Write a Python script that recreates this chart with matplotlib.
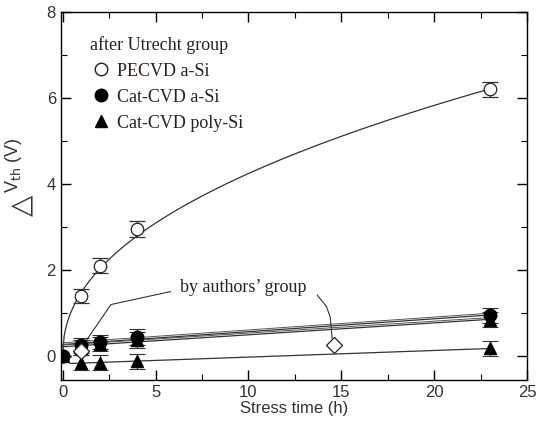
import matplotlib.pyplot as plt
import numpy as np
from matplotlib.lines import Line2D

plt.rcParams['font.family'] = ['Liberation Sans', 'DejaVu Sans']

# after Utrecht group
pecvd_t = [0, 1, 2, 4, 23]
pecvd_v = [0.0, 1.4, 2.1, 2.95, 6.2]
pecvd_err = [0.0, 0.17, 0.17, 0.18, 0.18]

cat_asi_t = [0, 1, 2, 4, 23]
cat_asi_v = [0.0, 0.25, 0.33, 0.45, 0.95]
cat_asi_err = [0.0, 0.17, 0.17, 0.18, 0.18]

cat_poly_t = [0, 1, 2, 4, 23]
cat_poly_v = [0.0, 0.2, 0.28, 0.38, 0.85]
cat_poly_err = [0.0, 0.17, 0.17, 0.18, 0.18]

cat_poly2_t = [1, 2, 4, 23]
cat_poly2_v = [-0.15, -0.15, -0.12, 0.18]
cat_poly2_err = [0.17, 0.17, 0.17, 0.18]

# by authors' group
auth_t = [1, 14.6]
auth_v = [0.12, 0.25]

txt = '#2b211b'
fig, ax = plt.subplots(figsize=(5.38, 4.23), dpi=100)
fig.subplots_adjust(left=0.113, right=0.98, top=0.972, bottom=0.102)

ek = dict(ecolor='#333333', elinewidth=0.8, capsize=6, capthick=0.8, linestyle='none', zorder=3)

# fitted curves
tt = np.linspace(0, 23, 300)
n, la = np.polyfit(np.log(pecvd_t[1:]), np.log(pecvd_v[1:]), 1, w=[1, 1, 1, 4])
ax.plot(tt, np.exp(la) * tt ** n, color='#333333', lw=0.9, zorder=2)

for ts, vs in [(cat_asi_t, cat_asi_v), (cat_poly_t, cat_poly_v)]:
    p = np.polyfit(ts[1:], vs[1:], 1)
    ax.plot([0, 23], np.polyval(p, [0, 23]), color='#333333', lw=0.9, zorder=2)
    ax.plot([0, 23], np.polyval(p, [0, 23]) + 0.04, color='#555555', lw=0.7, zorder=2)
p = np.polyfit(cat_poly2_t, cat_poly2_v, 1)
ax.plot([0.4, 23], np.polyval(p, [0.4, 23]), color='#333333', lw=0.9, zorder=2)

ax.errorbar(pecvd_t, pecvd_v, yerr=pecvd_err, marker='o', ms=9, mfc='white', mec='#222222', mew=0.9, **ek)
ax.errorbar(cat_asi_t, cat_asi_v, yerr=cat_asi_err, marker='o', ms=9, mfc='black', mec='black', **ek)
ax.errorbar(cat_poly_t, cat_poly_v, yerr=cat_poly_err, marker='^', ms=9, mfc='black', mec='black', **ek)
ax.errorbar(cat_poly2_t, cat_poly2_v, yerr=cat_poly2_err, marker='^', ms=9, mfc='black', mec='black', **ek)
ax.plot(auth_t, auth_v, linestyle='none', marker='D', ms=8.5, mfc='white', mec='#222222', mew=0.9, zorder=4)

# annotation
ax.text(6.3, 1.6, "by authors\u2019 group", family='Liberation Serif', fontsize=13, color=txt, va='center')
ax.plot([5.8, 2.6, 1.25], [1.5, 1.2, 0.35], color='#333333', lw=0.8)
ax.plot([13.7, 14.2, 14.4, 14.5], [1.42, 1.15, 0.9, 0.42], color='#333333', lw=0.8)

handles = [Line2D([], [], ls='none', marker='o', ms=9, mfc='white', mec='#222222'),
           Line2D([], [], ls='none', marker='o', ms=9, mfc='black', mec='black'),
           Line2D([], [], ls='none', marker='^', ms=9, mfc='black', mec='black')]
leg = ax.legend(handles, ['PECVD a-Si', 'Cat-CVD a-Si', 'Cat-CVD poly-Si'],
                title='after Utrecht group', loc='upper left', bbox_to_anchor=(0.062, 0.935),
                frameon=False, prop={'family': 'Liberation Serif', 'size': 13},
                title_fontproperties={'family': 'Liberation Serif', 'size': 13},
                handletextpad=0.3, labelspacing=0.5, handlelength=1.2, borderaxespad=0,
                borderpad=0)
leg._legend_box.align = 'left'
for t in leg.get_texts():
    t.set_color(txt)
leg.get_title().set_color(txt)

ax.set_xlim(-0.1, 25)
ax.set_ylim(-0.55, 8)
ax.set_xticks([0, 5, 10, 15, 20, 25])
ax.set_xticks(np.arange(0, 25, 2.5), minor=True)
ax.set_yticks([0, 2, 4, 6, 8])
ax.set_yticks(np.arange(0, 8, 1), minor=True)
ax.tick_params(which='both', direction='in', top=True, right=True, labelsize=12, labelcolor='#333333')
ax.tick_params(which='major', length=7, width=1)
ax.tick_params(which='minor', length=4, width=0.8)
for s in ax.spines.values():
    s.set_linewidth(1.0)
ax.set_xlabel('Stress time (h)', fontsize=12, labelpad=1, color='#333333')
ax.set_ylabel('V$_{\\mathrm{th}}$ (V)', fontsize=13, color='#333333')
ax.yaxis.set_label_coords(-0.079, 0.584)
ax.text(-0.083, 0.473, '\u25b3', family='DejaVu Sans', fontsize=20, rotation=90,
        transform=ax.transAxes, ha='center', va='center', color='#333333')

plt.savefig('out.png', dpi=100)
